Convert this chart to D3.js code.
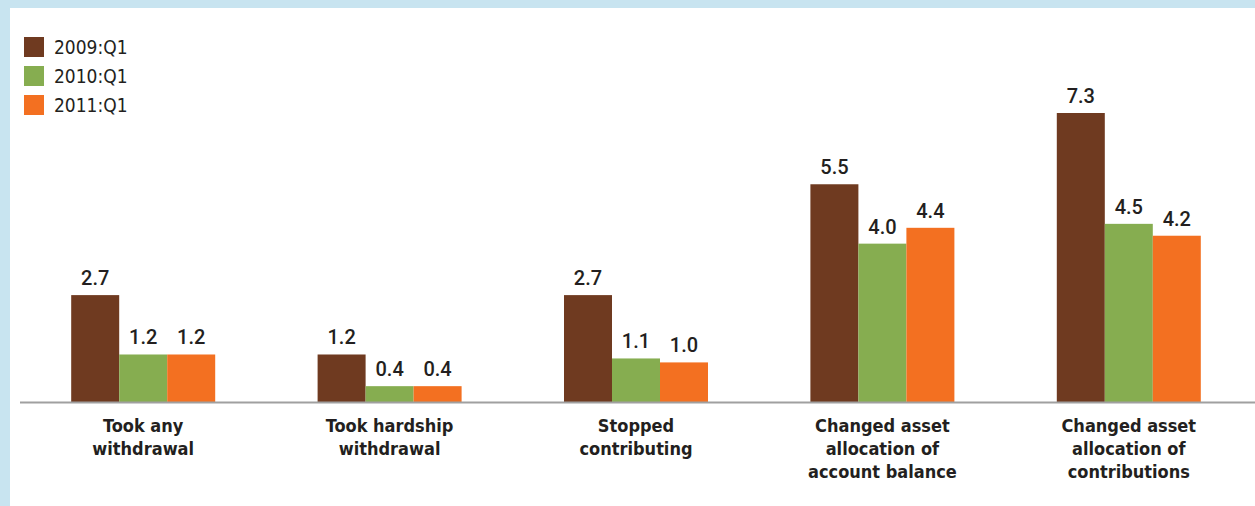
<!DOCTYPE html>
<html>
<head>
<meta charset="utf-8">
<script src="https://cdn.jsdelivr.net/npm/d3@7"></script>
<style>
  body { margin: 0; background: #c8e4f0; }
  svg { display: block; }
</style>
</head>
<body>
<script>
var categories = [
  ["Took any", "withdrawal"],
  ["Took hardship", "withdrawal"],
  ["Stopped", "contributing"],
  ["Changed asset", "allocation of", "account balance"],
  ["Changed asset", "allocation of", "contributions"]
]
var series = ["2009:Q1", "2010:Q1", "2011:Q1"]
var v2009 = [2.7, 1.2, 2.7, 5.5, 7.3]
var v2010 = [1.2, 0.4, 1.1, 4.0, 4.5]
var v2011 = [1.2, 0.4, 1.0, 4.4, 4.2]
var colors = ["#6f3a20", "#86ad50", "#f37021"]

const width = 1255
const height = 506
const base = 402
const font = "'DejaVu Sans Condensed', 'Liberation Sans Narrow', sans-serif"

var svg = d3.select("body").append("svg").attr("width", width).attr("height", height)

// white panel inside the blue frame
svg.append("rect").attr("x", 10).attr("y", 8).attr("width", width - 10).attr("height", height - 8).attr("fill", "white")

var xScale = d3.scaleBand().domain(d3.range(categories.length)).range([20, 1252])
var x1 = d3.scaleBand().domain(d3.range(series.length)).range([-72, 72])
var yScale = d3.scaleLinear().domain([0, 7.3]).range([base, 113])

var data = [v2009, v2010, v2011]

var groups = svg.selectAll(".grp").data(categories).enter().append("g")
  .attr("class", "grp")
  .attr("transform", (d, i) => "translate(" + (xScale(i) + xScale.bandwidth() / 2) + ",0)")

groups.each(function (c, ci) {
  var g = d3.select(this)
  series.forEach(function (s, si) {
    var v = data[si][ci]
    g.append("rect")
      .attr("x", x1(si))
      .attr("width", x1.bandwidth())
      .attr("y", yScale(v))
      .attr("height", base - yScale(v))
      .attr("fill", colors[si])
    g.append("text")
      .attr("x", x1(si) + x1.bandwidth() / 2)
      .attr("y", yScale(v) - 10)
      .attr("text-anchor", "middle")
      .attr("font-family", "Roboto, " + font)
      .attr("font-size", 20)
      .attr("font-weight", 500)
      .attr("fill", "#231f20")
      .text(v.toFixed(1))
  })
  c.forEach(function (line, li) {
    g.append("text")
      .attr("x", 0)
      .attr("y", 432 + li * 23)
      .attr("text-anchor", "middle")
      .attr("font-family", font)
      .attr("font-size", 18)
      .attr("font-weight", "bold")
      .attr("fill", "#231f20")
      .text(line)
  })
})

// baseline
svg.append("line").attr("x1", 20).attr("x2", width).attr("y1", base + 0.5).attr("y2", base + 0.5)
  .attr("stroke", "#a0a0a0").attr("stroke-width", 2)

// legend
var legend = svg.selectAll(".leg").data(series).enter().append("g")
  .attr("class", "leg")
  .attr("transform", (d, i) => "translate(24," + (37 + i * 29) + ")")
legend.append("rect").attr("width", 20).attr("height", 20).attr("fill", (d, i) => colors[i])
legend.append("text").attr("x", 30).attr("y", 17)
  .attr("font-family", font)
  .attr("font-size", 19)
  .attr("fill", "#231f20")
  .text((d) => d)
</script>
</body>
</html>
